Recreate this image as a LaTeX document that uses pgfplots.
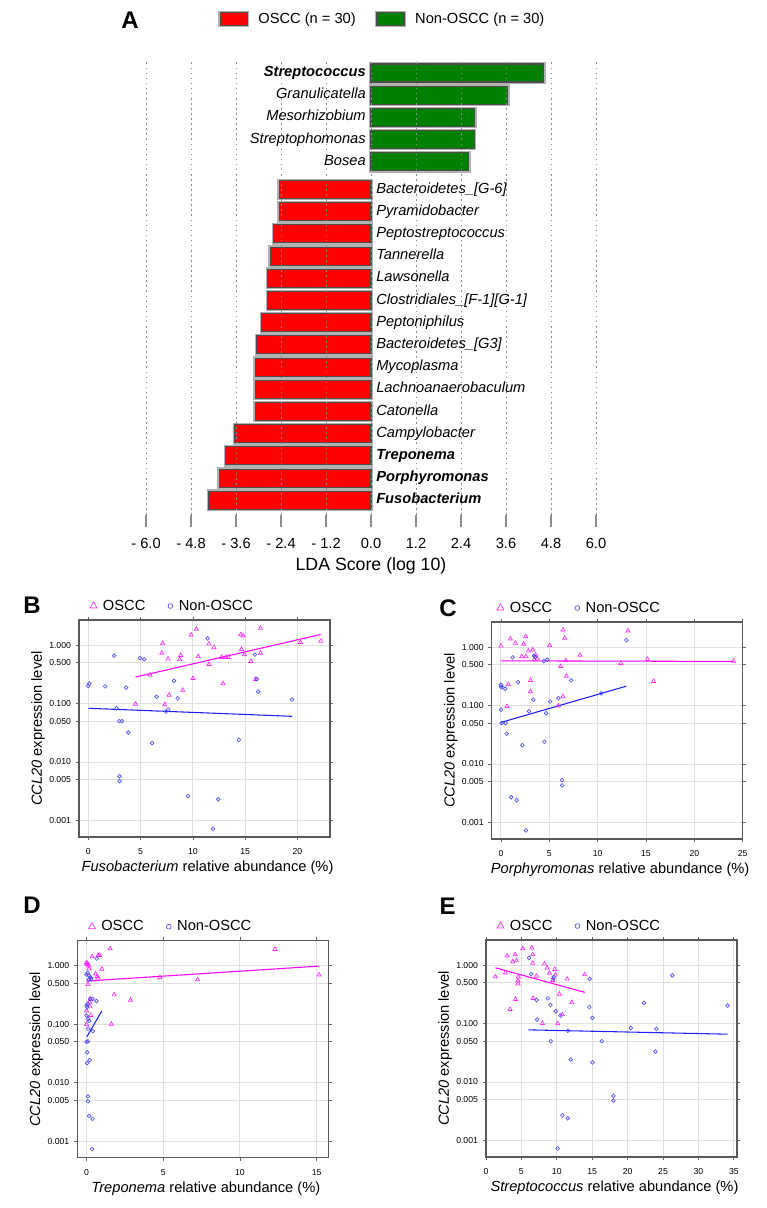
\documentclass[border=0pt]{standalone}
\usepackage{fontspec}
\setmainfont{Liberation Sans}
\usepackage{pgfplots}
\usepackage{pgfplotstable}
\pgfplotsset{compat=1.18}

\definecolor{osccred}{RGB}{255,0,0}
\definecolor{nongreen}{RGB}{0,128,0}
\definecolor{magpt}{RGB}{255,40,255}
\definecolor{bluept}{RGB}{80,80,255}
\definecolor{magln}{RGB}{255,0,255}
\definecolor{blueln}{RGB}{30,30,255}

% ---- panel A: LDA scores
\pgfplotstableread{
y lda label
0 4.61 \textbf{Streptococcus}
-1 3.65 Granulicatella
-2 2.77 Mesorhizobium
-3 2.75 Streptophomonas
-4 2.61 Bosea
}\ldagreen
\pgfplotstableread{
y lda label
-5.25 -2.45 Bacteroidetes\_[G-6]
-6.25 -2.45 Pyramidobacter
-7.25 -2.59 Peptostreptococcus
-8.25 -2.69 Tannerella
-9.25 -2.75 Lawsonella
-10.25 -2.75 Clostridiales\_[F-1][G-1]
-11.25 -2.91 Peptoniphilus
-12.25 -3.04 Bacteroidetes\_[G3]
-13.25 -3.09 Mycoplasma
-14.25 -3.09 Lachnoanaerobaculum
-15.25 -3.09 Catonella
-16.25 -3.63 Campylobacter
-17.25 -3.87 \textbf{Treponema}
-18.25 -4.05 \textbf{Porphyromonas}
-19.25 -4.32 \textbf{Fusobacterium}
}\ldared

% ---- panel B: Fusobacterium
\pgfplotstableread{
x y
4.52 0.098
5.91 0.31
7.12 1.07
7.03 0.73
7.63 0.58
7.31 0.096
7.73 0.14
8.84 0.67
8.74 0.57
9.03 0.17
9.83 1.50
10.33 1.88
10.02 0.27
10.52 0.64
11.54 1.05
11.54 0.47
12.02 0.91
12.75 0.62
12.88 0.22
13.16 0.62
13.39 0.62
14.60 1.52
14.82 1.44
14.66 0.85
14.94 0.69
15.55 0.53
15.99 0.26
16.47 1.95
16.47 0.73
20.29 1.12
22.23 1.17
}\fusoA
\pgfplotstableread{
x y
0.00 0.20
0.10 0.22
1.62 0.197
2.48 0.66
2.70 0.083
2.96 0.050
3.21 0.050
3.62 0.187
3.82 0.032
2.99 0.0057
2.99 0.0047
4.93 0.60
5.34 0.57
6.10 0.021
6.52 0.131
7.44 0.073
7.63 0.079
8.20 0.246
8.55 0.123
9.54 0.0026
11.42 1.30
12.43 0.0023
11.92 0.00072
14.40 0.024
15.93 0.69
16.12 0.263
16.25 0.16
19.49 0.117
}\fusoB

% ---- panel C: Porphyromonas
\pgfplotstableread{
x y
0.00 1.05
0.97 1.39
1.49 1.17
2.35 1.13
2.56 1.52
2.14 0.69
2.59 0.69
2.83 0.86
3.28 0.90
3.59 0.74
3.45 0.61
3.76 0.63
3.07 0.27
3.04 0.174
0.76 0.23
0.62 0.097
5.04 1.07
6.42 1.98
6.60 1.43
6.18 0.47
6.70 0.59
6.77 0.32
6.42 0.143
5.94 0.099
8.18 0.73
12.40 0.53
13.12 1.90
15.16 0.62
15.78 0.26
24.07 0.575
}\porA
\pgfplotstableread{
x y
0.00 0.227
0.00 0.21
0.17 0.204
0.45 0.194
0.00 0.085
0.07 0.050
0.48 0.050
0.59 0.033
1.21 0.665
1.76 0.25
2.90 0.080
2.21 0.021
1.07 0.0027
1.62 0.0024
2.59 0.00073
3.35 0.126
3.42 0.71
3.55 0.68
4.45 0.575
4.80 0.61
5.08 0.117
4.66 0.074
4.49 0.024
5.94 0.134
7.25 0.27
6.32 0.0053
6.32 0.0043
10.36 0.162
12.98 1.32
}\porB

% ---- panel D: Treponema
\pgfplotstableread{
x y
1.54 1.97
12.28 1.92
0.37 1.44
0.76 1.51
0.85 1.51
0.00 1.14
0.09 1.08
0.15 1.00
0.17 0.89
1.00 0.88
0.59 0.73
0.70 0.66
0.74 0.62
0.22 0.62
0.30 0.58
0.09 0.48
4.78 0.63
7.24 0.58
15.15 0.70
1.80 0.32
2.87 0.26
0.26 0.27
0.20 0.24
0.00 0.17
0.28 0.142
1.61 0.101
0.00 0.099
0.05 1.05
0.22 0.20
0.04 1.10
}\treA
\pgfplotstableread{
x y
0.67 1.33
0.00 0.71
0.17 0.68
0.26 0.63
0.13 0.58
0.22 0.27
0.39 0.27
0.65 0.25
0.00 0.21
0.04 0.197
0.09 0.225
0.00 0.14
0.11 0.123
0.17 0.114
0.11 0.084
0.41 0.076
0.09 0.051
0.00 0.050
0.04 0.033
0.04 0.0216
0.20 0.0243
0.09 0.0058
0.09 0.0048
0.17 0.0027
0.39 0.0024
0.37 0.00073
0.30 0.59
0.07 0.75
}\treB

% ---- panel E: Streptococcus
\pgfplotstableread{
x y
1.33 0.63
2.74 0.74
2.98 1.44
3.40 0.175
3.78 1.14
4.11 1.52
4.30 1.19
4.58 0.63
4.53 0.54
4.53 0.48
4.16 0.26
5.19 1.92
6.46 1.97
6.60 1.52
6.60 1.08
6.65 0.27
7.12 0.65
7.97 0.101
8.25 1.05
8.63 0.90
8.96 0.73
9.43 0.55
9.71 0.85
9.80 0.68
10.13 0.10
10.37 0.32
10.79 0.142
11.45 0.58
12.11 0.23
13.94 0.69
}\strA
\pgfplotstableread{
x y
6.09 1.33
6.37 0.70
7.12 0.253
7.22 0.117
8.72 0.27
9.10 0.208
9.14 0.050
9.57 0.63
9.52 0.59
9.85 0.162
10.51 0.137
11.55 0.075
11.97 0.0243
10.79 0.0027
11.55 0.0024
10.13 0.00073
14.65 0.58
14.60 0.192
15.03 0.125
15.03 0.0216
16.35 0.050
17.99 0.0058
17.99 0.0048
20.44 0.084
22.32 0.225
24.06 0.081
23.92 0.033
26.32 0.667
34.13 0.203
}\strB

\pgfplotsset{/pgf/number format/assume math mode=true}

\begin{document}
\begin{tikzpicture}
\useasboundingbox (0,0) rectangle (575.25pt,-906pt);

% panel letters
\node[font=\fontsize{18}{20}\selectfont\bfseries] at (97.5pt,-15pt) {A};
\node[font=\fontsize{18}{20}\selectfont\bfseries] at (24pt,-453.75pt) {B};
\node[font=\fontsize{18}{20}\selectfont\bfseries] at (336pt,-456pt) {C};
\node[font=\fontsize{18}{20}\selectfont\bfseries] at (24pt,-678.75pt) {D};
\node[font=\fontsize{18}{20}\selectfont\bfseries] at (335.8pt,-680pt) {E};

% ---------------- A
\begin{axis}[
  at={(92.625pt,-45.75pt)}, anchor=north west,
  scale only axis, width=371.25pt, height=340.5pt,
  xmin=-6.6, xmax=6.6, ymin=-19.91, ymax=0.54,
  axis y line=none, axis x line*=bottom,
  x axis line style={draw=none},
  xtick={-6,-4.8,-3.6,-2.4,-1.2,0,1.2,2.4,3.6,4.8,6},
  xticklabels={- 6.0,- 4.8,- 3.6,- 2.4,- 1.2,0.0,1.2,2.4,3.6,4.8,6.0},
  xmajorgrids,
  major grid style={black!45, line width=0.7pt, dash pattern=on 1.2pt off 2.6pt},
  tick align=outside, major tick length=9pt,
  xtick style={black!45, line width=0.9pt},
  xticklabel style={font=\fontsize{11}{13}\selectfont, yshift=-5pt},
  xlabel={LDA Score (log 10)},
  xlabel style={at={(axis description cs:0.5,-0.112)}, anchor=center,
    font=\fontsize{13.3}{15}\selectfont},
  axis on top,
  legend columns=2,
  legend style={draw=none, fill=none, inner sep=0pt,
    font=\fontsize{11}{13}\selectfont,
    at={(axis description cs:0.191,1.0925)}, anchor=west,
    nodes={inner sep=2.5pt},
    /tikz/every odd column/.append style={column sep=4.5pt},
    /tikz/every even column/.append style={column sep=12pt}},
]
\addplot[xbar, bar width=13.5pt, bar shift=0pt, fill=osccred, draw=black!70,
  line width=0.8pt, preaction={draw=black!30, line width=2.8pt},
  legend image code/.code={\draw[fill=osccred, draw=black!70, line width=0.8pt]
    (0pt,-4.9pt) rectangle (20.25pt,4.9pt);}]
  table[x=lda, y=y] {\ldared};
\addlegendentry{OSCC (n = 30)}
\addplot[xbar, bar width=13.5pt, bar shift=0pt, fill=nongreen, draw=black!70,
  line width=0.8pt, preaction={draw=black!30, line width=2.8pt},
  legend image code/.code={\draw[fill=nongreen, draw=black!70, line width=0.8pt]
    (0pt,-4.9pt) rectangle (20.25pt,4.9pt);}]
  table[x=lda, y=y] {\ldagreen};
\addlegendentry{Non-OSCC (n = 30)}
\addplot[only marks, mark=none, forget plot, nodes near coords,
  point meta=explicit symbolic,
  every node near coord/.style={anchor=mid east, inner sep=0pt, xshift=-3.75pt,
    font=\fontsize{11}{13}\selectfont\itshape}]
  table[x expr=0, y=y, meta=label] {\ldagreen};
\addplot[only marks, mark=none, forget plot, nodes near coords,
  point meta=explicit symbolic,
  every node near coord/.style={anchor=mid west, inner sep=0pt, xshift=3.75pt,
    font=\fontsize{11}{13}\selectfont\itshape}]
  table[x expr=0, y=y, meta=label] {\ldared};
\end{axis}

% ---------------- B
\begin{axis}[at={(59.25pt,-465pt)}, anchor=north west,
  scale only axis, width=188.25pt, height=162.75pt,
  xmin=-0.89, xmax=23.12, xtick={0,5,10,15,20},
  ymode=log, ymin=5.2e-4, ymax=2.69,
  ytick={0.001,0.005,0.01,0.05,0.1,0.5,1},
  yticklabels={0.001,0.005,0.010,0.050,0.100,0.500,1.000},
  grid=major, major grid style={black!12, line width=0.7pt},
  axis line style={black!65, line width=1.1pt},
  tick style={black!60, line width=0.5pt},
  tick align=outside, major tick length=2.5pt,
  xticklabel style={font=\fontsize{6.5}{7.5}\selectfont, yshift=-2.5pt},
  yticklabel style={font=\fontsize{6.5}{7.5}\selectfont},
  ylabel={\textit{CCL20} expression level},
  ylabel style={at={(axis description cs:-0.163,0.5)}, anchor=center,
    font=\fontsize{11}{13}\selectfont},
  xlabel={\textit{Fusobacterium} relative abundance (\%)},
  xlabel style={at={(axis description cs:0.512,-0.143)}, anchor=center,
    font=\fontsize{11}{13}\selectfont},
  legend columns=2,
  legend style={draw=none, fill=none, inner sep=0pt,
    font=\fontsize{11}{13}\selectfont,
    at={(axis description cs:0.043,1.0645)}, anchor=west,
    nodes={inner sep=2pt},
    /tikz/every odd column/.append style={column sep=2.5pt},
    /tikz/every even column/.append style={column sep=15pt}},
]
\addplot[only marks, mark=triangle, mark size=1.8pt, magpt,
  mark options={line width=0.5pt},
  legend image code/.code={\draw[magpt, line width=0.5pt, mark=triangle,
    mark size=3pt] plot coordinates {(0pt,0pt)};}]
  table {\fusoA};
\addlegendentry{OSCC}
\addplot[only marks, mark=o, mark size=1.4pt, bluept,
  mark options={line width=0.5pt},
  legend image code/.code={\draw[bluept, line width=0.5pt, mark=o,
    mark size=1.8pt] plot coordinates {(0pt,0pt)};}]
  table {\fusoB};
\addlegendentry{Non-OSCC}
\addplot[magln, line width=0.8pt, forget plot] coordinates {(4.52,0.284) (22.23,1.52)};
\addplot[blueln, line width=0.8pt, forget plot] coordinates {(0,0.083) (19.49,0.0605)};
\end{axis}

% ---------------- C
\begin{axis}[at={(368.75pt,-466.5pt)}, anchor=north west,
  scale only axis, width=188.25pt, height=162.75pt,
  xmin=-0.96, xmax=25.0, xtick={0,5,10,15,20,25},
  ymode=log, ymin=5.2e-4, ymax=2.69,
  ytick={0.001,0.005,0.01,0.05,0.1,0.5,1},
  yticklabels={0.001,0.005,0.010,0.050,0.100,0.500,1.000},
  grid=major, major grid style={black!12, line width=0.7pt},
  axis line style={black!65, line width=1.1pt},
  tick style={black!60, line width=0.5pt},
  tick align=outside, major tick length=2.5pt,
  xticklabel style={font=\fontsize{6.5}{7.5}\selectfont, yshift=-2.5pt},
  yticklabel style={font=\fontsize{6.5}{7.5}\selectfont},
  ylabel={\textit{CCL20} expression level},
  ylabel style={at={(axis description cs:-0.163,0.5)}, anchor=center,
    font=\fontsize{11}{13}\selectfont},
  xlabel={\textit{Porphyromonas} relative abundance (\%)},
  xlabel style={at={(axis description cs:0.512,-0.143)}, anchor=center,
    font=\fontsize{11}{13}\selectfont},
  legend columns=2,
  legend style={draw=none, fill=none, inner sep=0pt,
    font=\fontsize{11}{13}\selectfont,
    at={(axis description cs:0.02,1.0645)}, anchor=west,
    nodes={inner sep=2pt},
    /tikz/every odd column/.append style={column sep=2.5pt},
    /tikz/every even column/.append style={column sep=15pt}},
]
\addplot[only marks, mark=triangle, mark size=1.8pt, magpt,
  mark options={line width=0.5pt},
  legend image code/.code={\draw[magpt, line width=0.5pt, mark=triangle,
    mark size=3pt] plot coordinates {(0pt,0pt)};}]
  table {\porA};
\addlegendentry{OSCC}
\addplot[only marks, mark=o, mark size=1.4pt, bluept,
  mark options={line width=0.5pt},
  legend image code/.code={\draw[bluept, line width=0.5pt, mark=o,
    mark size=1.8pt] plot coordinates {(0pt,0pt)};}]
  table {\porB};
\addlegendentry{Non-OSCC}
\addplot[magln, line width=0.8pt, forget plot] coordinates {(0,0.583) (24.07,0.569)};
\addplot[blueln, line width=0.8pt, forget plot] coordinates {(0,0.0514) (12.98,0.215)};
\end{axis}

% ---------------- D
\begin{axis}[at={(58pt,-705.5pt)}, anchor=north west,
  scale only axis, width=188.25pt, height=162.75pt,
  xmin=-0.6, xmax=15.76, xtick={0,5,10,15},
  ymode=log, ymin=5.2e-4, ymax=2.69,
  ytick={0.001,0.005,0.01,0.05,0.1,0.5,1},
  yticklabels={0.001,0.005,0.010,0.050,0.100,0.500,1.000},
  grid=major, major grid style={black!12, line width=0.7pt},
  axis line style={black!65, line width=1.1pt},
  tick style={black!60, line width=0.5pt},
  tick align=outside, major tick length=2.5pt,
  xticklabel style={font=\fontsize{6.5}{7.5}\selectfont, yshift=-2.5pt},
  yticklabel style={font=\fontsize{6.5}{7.5}\selectfont},
  ylabel={\textit{CCL20} expression level},
  ylabel style={at={(axis description cs:-0.163,0.5)}, anchor=center,
    font=\fontsize{11}{13}\selectfont},
  xlabel={\textit{Treponema} relative abundance (\%)},
  xlabel style={at={(axis description cs:0.512,-0.143)}, anchor=center,
    font=\fontsize{11}{13}\selectfont},
  legend columns=2,
  legend style={draw=none, fill=none, inner sep=0pt,
    font=\fontsize{11}{13}\selectfont,
    at={(axis description cs:0.043,1.0645)}, anchor=west,
    nodes={inner sep=2pt},
    /tikz/every odd column/.append style={column sep=2.5pt},
    /tikz/every even column/.append style={column sep=15pt}},
]
\addplot[only marks, mark=triangle, mark size=1.8pt, magpt,
  mark options={line width=0.5pt},
  legend image code/.code={\draw[magpt, line width=0.5pt, mark=triangle,
    mark size=3pt] plot coordinates {(0pt,0pt)};}]
  table {\treA};
\addlegendentry{OSCC}
\addplot[only marks, mark=o, mark size=1.4pt, bluept,
  mark options={line width=0.5pt},
  legend image code/.code={\draw[bluept, line width=0.5pt, mark=o,
    mark size=1.8pt] plot coordinates {(0pt,0pt)};}]
  table {\treB};
\addlegendentry{Non-OSCC}
\addplot[magln, line width=0.8pt, forget plot] coordinates {(0,0.548) (15.15,0.987)};
\addplot[blueln, line width=0.8pt, forget plot] coordinates {(0.02,0.061) (1.0,0.169)};
\end{axis}

% ---------------- E
\begin{axis}[at={(364.5pt,-705pt)}, anchor=north west,
  scale only axis, width=188.25pt, height=162.75pt,
  xmin=0, xmax=35.45, xtick={0,5,10,15,20,25,30,35},
  ymode=log, ymin=5.2e-4, ymax=2.69,
  ytick={0.001,0.005,0.01,0.05,0.1,0.5,1},
  yticklabels={0.001,0.005,0.010,0.050,0.100,0.500,1.000},
  grid=major, major grid style={black!12, line width=0.7pt},
  axis line style={black!65, line width=1.1pt},
  tick style={black!60, line width=0.5pt},
  tick align=outside, major tick length=2.5pt,
  xticklabel style={font=\fontsize{6.5}{7.5}\selectfont, yshift=-2.5pt},
  yticklabel style={font=\fontsize{6.5}{7.5}\selectfont},
  ylabel={\textit{CCL20} expression level},
  ylabel style={at={(axis description cs:-0.163,0.5)}, anchor=center,
    font=\fontsize{11}{13}\selectfont},
  xlabel={\textit{Streptococcus} relative abundance (\%)},
  xlabel style={at={(axis description cs:0.512,-0.143)}, anchor=center,
    font=\fontsize{11}{13}\selectfont},
  legend columns=2,
  legend style={draw=none, fill=none, inner sep=0pt,
    font=\fontsize{11}{13}\selectfont,
    at={(axis description cs:0.043,1.0645)}, anchor=west,
    nodes={inner sep=2pt},
    /tikz/every odd column/.append style={column sep=2.5pt},
    /tikz/every even column/.append style={column sep=15pt}},
]
\addplot[only marks, mark=triangle, mark size=1.8pt, magpt,
  mark options={line width=0.5pt},
  legend image code/.code={\draw[magpt, line width=0.5pt, mark=triangle,
    mark size=3pt] plot coordinates {(0pt,0pt)};}]
  table {\strA};
\addlegendentry{OSCC}
\addplot[only marks, mark=o, mark size=1.4pt, bluept,
  mark options={line width=0.5pt},
  legend image code/.code={\draw[bluept, line width=0.5pt, mark=o,
    mark size=1.8pt] plot coordinates {(0pt,0pt)};}]
  table {\strB};
\addlegendentry{Non-OSCC}
\addplot[magln, line width=0.8pt, forget plot] coordinates {(1.33,0.90) (13.94,0.342)};
\addplot[blueln, line width=0.8pt, forget plot] coordinates {(6.0,0.078) (34.13,0.0658)};
\end{axis}
\end{tikzpicture}
\end{document}
